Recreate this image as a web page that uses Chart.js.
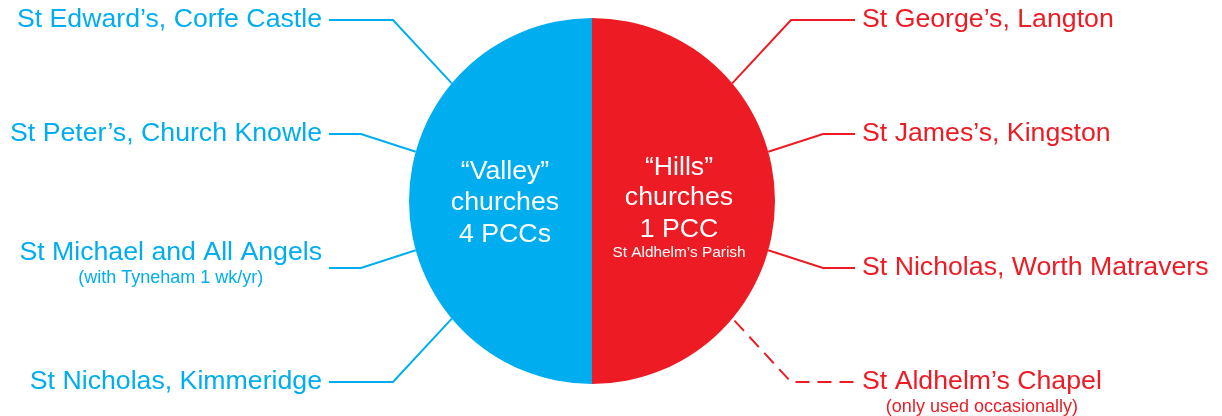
<!DOCTYPE html>
<html>
<head>
<meta charset="utf-8">
<script src="https://cdn.jsdelivr.net/npm/chart.js@4"></script>
<style>
  html, body { margin: 0; padding: 0; background: #fff; }
  #wrap { width: 1222px; height: 416px; }
</style>
</head>
<body>
<div id="wrap"><canvas id="parishChart"></canvas></div>
<script>
// ── Datos ──
const groups = ["Hills", "Valley"];
const churchCounts = [4, 4];
const groupTitles = [["“Hills”", "churches", "1 PCC"], ["“Valley”", "churches", "4 PCCs"]];
const groupSubtitles = ["St Aldhelm’s Parish", ""];
const hillsChurches = ["St George’s, Langton", "St James’s, Kingston", "St Nicholas, Worth Matravers", "St Aldhelm’s Chapel"];
const hillsNotes = ["", "", "", "(only used occasionally)"];
const valleyChurches = ["St Edward’s, Corfe Castle", "St Peter’s, Church Knowle", "St Michael and All Angels", "St Nicholas, Kimmeridge"];
const valleyNotes = ["", "", "(with Tyneham 1 wk/yr)", ""];
const occasional = [false, false, false, true];

const RED = "#ed1c24";
const BLUE = "#00aeef";
const FONT = "'Liberation Sans', Arial, sans-serif";

// ── Etiquetas y líneas guía ──
const leaderPlugin = {
    id: "leaders",
    afterDraw(chart) {
        const arc = chart.getDatasetMeta(0).data[0];
        const cx = arc.x, cy = arc.y, r = arc.outerRadius;
        const ctx = chart.ctx;
        const angles = [-40, -15.6, 15.6, 40];     // grados desde la horizontal
        const rows = [-181, -67, 67, 181];         // altura de cada fila
        const elbows = [199, 231, 231, 199];
        const lineEnd = 263, textGap = 270;

        const sides = [
            { dir: 1, color: RED, names: hillsChurches, notes: hillsNotes },
            { dir: -1, color: BLUE, names: valleyChurches, notes: valleyNotes }
        ];

        ctx.save();
        sides.forEach(side => {
            side.names.forEach((name, i) => {
                const a = angles[i] * Math.PI / 180;
                const dashed = side.dir === 1 && occasional[i];
                const rr = dashed ? r + 3 : r;
                const y = cy + rows[i];
                ctx.strokeStyle = side.color;
                ctx.lineWidth = 2;
                ctx.setLineDash(dashed ? [14, 8] : []);
                ctx.beginPath();
                ctx.moveTo(cx + side.dir * rr * Math.cos(a), cy + rr * Math.sin(a));
                ctx.lineTo(cx + side.dir * elbows[i], y);
                ctx.lineTo(cx + side.dir * lineEnd, y);
                ctx.stroke();
                ctx.setLineDash([]);

                const note = side.notes[i];
                const tx = cx + side.dir * textGap;
                const mainY = (note && side.dir === -1) ? y - 15 : y;
                ctx.fillStyle = side.color;
                ctx.textBaseline = "middle";
                ctx.font = "26.7px " + FONT;
                ctx.textAlign = side.dir === 1 ? "left" : "right";
                ctx.fillText(name, tx, mainY);
                if (note) {
                    const w = ctx.measureText(name).width;
                    const mid = side.dir === 1 ? tx + w / 2 : tx - w / 2;
                    ctx.font = "18px " + FONT;
                    ctx.textAlign = "center";
                    ctx.fillText(note, mid, side.dir === 1 ? y + 25 : y + 10);
                }
            });
        });

        // texto dentro del círculo
        ctx.fillStyle = "#fff";
        ctx.textAlign = "center";
        ctx.textBaseline = "middle";
        const centerX = [cx + 87, cx - 87];
        const centerY = [[-33, -3, 29], [-29, 2, 34]];
        groupTitles.forEach((lines, g) => {
            ctx.font = "26.7px " + FONT;
            lines.forEach((t, k) => ctx.fillText(t, centerX[g], cy + centerY[g][k]));
            if (groupSubtitles[g]) {
                ctx.font = "15.4px " + FONT;
                ctx.fillText(groupSubtitles[g], centerX[g], cy + 52);
            }
        });
        ctx.restore();
    }
};

document.addEventListener("DOMContentLoaded", () => {
    const ctx = document.getElementById("parishChart").getContext("2d");
    new Chart(ctx, {
        type: "pie",
        data: {
            labels: groups,
            datasets: [{
                data: churchCounts,
                backgroundColor: [RED, BLUE],
                borderWidth: 0
            }]
        },
        options: {
            responsive: true,
            maintainAspectRatio: false,
            animation: false,
            layout: { padding: { top: 18, bottom: 32, left: 0, right: 38 } },
            plugins: { legend: { display: false }, tooltip: { enabled: false } }
        },
        plugins: [leaderPlugin]
    });
});
</script>
</body>
</html>
